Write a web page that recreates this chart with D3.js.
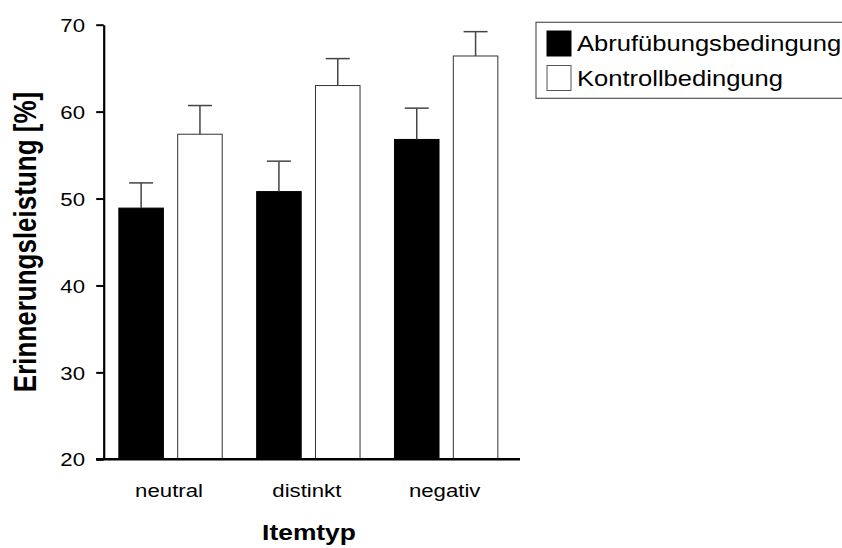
<!DOCTYPE html>
<html>
<head>
<meta charset="utf-8">
<script src="https://cdn.jsdelivr.net/npm/d3@7"></script>
<style>
  body { margin: 0; background: #fff; }
  text { font-family: "Liberation Sans", Arial, sans-serif; fill: #000; }
</style>
</head>
<body>
<svg id="chart" width="842" height="548"></svg>
<script>
// data
let categories = ['neutral', 'distinkt', 'negativ'];
let seriesNames = ['Abrufübungsbedingung', 'Kontrollbedingung'];
let abrufMeans = [48.9, 50.8, 56.8];
let abrufErr = [2.9, 3.5, 3.6];
let kontrollMeans = [57.4, 63.0, 66.4];
let kontrollErr = [3.3, 3.1, 2.8];
let yTicks = [20, 30, 40, 50, 60, 70];

// the reference is stretched horizontally, text follows that
let sx = 1.2;

let svg = d3.select('#chart');

let y = d3.scaleLinear()
    .domain([20, 70])
    .range([459.3, 24.7]);

let x0 = d3.scaleBand()
    .domain(categories)
    .range([103.7, 513])
    .paddingInner(0.25)
    .paddingOuter(0.11);

let x1 = d3.scaleBand()
    .domain(seriesNames)
    .range([0, x0.bandwidth()])
    .paddingInner(0.243);

let fills = { 'Abrufübungsbedingung': '#000', 'Kontrollbedingung': '#fff' };

let rows = categories.map(function(c, i) {
    return [
	{ cat: c, name: seriesNames[0], value: abrufMeans[i], err: abrufErr[i] },
	{ cat: c, name: seriesNames[1], value: kontrollMeans[i], err: kontrollErr[i] }
    ];
});
let flat = rows.reduce((acc, r) => acc.concat(r), []);

// bars
svg.append('g').selectAll('rect.bar')
    .data(flat).enter()
    .append('rect')
    .attr('class', 'bar')
    .attr('x', d => x0(d.cat) + x1(d.name))
    .attr('y', d => y(d.value))
    .attr('width', x1.bandwidth())
    .attr('height', d => y(20) - y(d.value))
    .attr('fill', d => fills[d.name])
    .attr('stroke', d => d.name === seriesNames[0] ? '#000' : '#333')
    .attr('stroke-width', 1);

// error bars (upper only, with cap)
let capW = 24;
let err = svg.append('g').selectAll('g.err')
    .data(flat).enter()
    .append('g')
    .attr('class', 'err');

err.append('line')
    .attr('x1', d => x0(d.cat) + x1(d.name) + x1.bandwidth() / 2)
    .attr('x2', d => x0(d.cat) + x1(d.name) + x1.bandwidth() / 2)
    .attr('y1', d => y(d.value))
    .attr('y2', d => y(d.value + d.err))
    .attr('stroke', '#444')
    .attr('stroke-width', 1.5);

err.append('line')
    .attr('x1', d => x0(d.cat) + x1(d.name) + x1.bandwidth() / 2 - capW / 2)
    .attr('x2', d => x0(d.cat) + x1(d.name) + x1.bandwidth() / 2 + capW / 2)
    .attr('y1', d => y(d.value + d.err))
    .attr('y2', d => y(d.value + d.err))
    .attr('stroke', '#444')
    .attr('stroke-width', 1.5);

// y axis
let yAxis = svg.append('g')
    .attr('transform', 'translate(103.7,0)')
    .call(d3.axisLeft(y).tickValues(yTicks).tickSize(7.5).tickSizeOuter(0));

yAxis.select('.domain').attr('stroke', '#000').attr('stroke-width', 2.2);
yAxis.selectAll('.tick line').attr('stroke', '#000').attr('stroke-width', 2);
yAxis.selectAll('.tick text')
    .attr('x', -18.7 / sx)
    .attr('dy', '0.36em')
    .attr('transform', 'scale(' + sx + ',1)')
    .style('font-size', '18.5px')
    .style('font-family', '"Liberation Sans", Arial, sans-serif')
    .attr('fill', '#000');

// x axis line
svg.append('line')
    .attr('x1', 96)
    .attr('x2', 520)
    .attr('y1', y(20))
    .attr('y2', y(20))
    .attr('stroke', '#000')
    .attr('stroke-width', 2.4);

// x tick labels
svg.append('g').selectAll('text.xlab')
    .data(categories).enter()
    .append('text')
    .attr('class', 'xlab')
    .attr('text-anchor', 'middle')
    .attr('transform', d => 'translate(' + (x0(d) + x0.bandwidth() / 2 - 1.5) + ',496.7) scale(' + sx + ',1)')
    .style('font-size', '18.5px')
    .text(d => d);

// axis titles
svg.append('text')
    .attr('text-anchor', 'middle')
    .attr('transform', 'translate(309,540) scale(' + sx + ',1)')
    .style('font-size', '22px')
    .style('font-weight', 'bold')
    .text('Itemtyp');

svg.append('text')
    .attr('text-anchor', 'middle')
    .attr('transform', 'translate(36,242) scale(' + sx + ',1) rotate(-90)')
    .style('font-size', '26px')
    .style('font-weight', 'bold')
    .text('Erinnerungsleistung [%]');

// legend
let legend = svg.append('g');
legend.append('rect')
    .attr('x', 536)
    .attr('y', 22.3)
    .attr('width', 320)
    .attr('height', 76)
    .attr('fill', '#fff')
    .attr('stroke', '#555')
    .attr('stroke-width', 1.2);

let item = legend.selectAll('g.item')
    .data(seriesNames).enter()
    .append('g')
    .attr('class', 'item')
    .attr('transform', (d, i) => 'translate(547,' + (31 + i * 34.5) + ')');

item.append('rect')
    .attr('width', 24)
    .attr('height', 25)
    .attr('fill', d => fills[d])
    .attr('stroke', d => d === seriesNames[0] ? '#000' : '#555')
    .attr('stroke-width', 1);

item.append('text')
    .attr('transform', 'translate(30,20) scale(' + sx + ',1)')
    .style('font-size', '21.3px')
    .text(d => d);
</script>
</body>
</html>
